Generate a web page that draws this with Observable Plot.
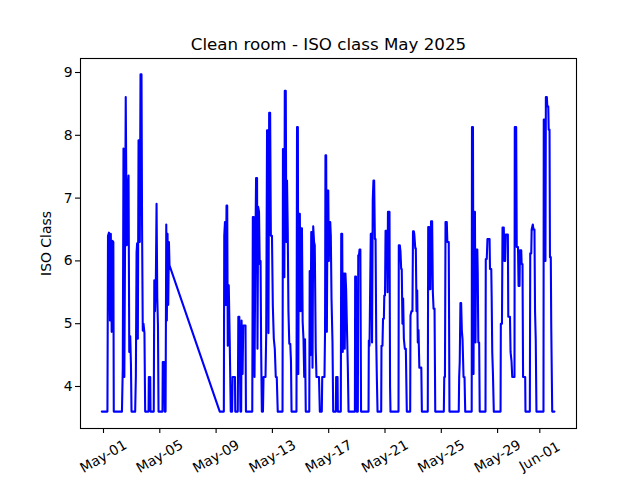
<!DOCTYPE html>
<html>
<head>
<meta charset="utf-8">
<script src="https://cdn.jsdelivr.net/npm/d3@7"></script>
<script src="https://cdn.jsdelivr.net/npm/@observablehq/plot@0.6"></script>
<style>
  html, body { margin: 0; padding: 0; background: white; }
</style>
</head>
<body>
<div id="chart"></div>
<script>
// Days since 2025-05-01 00:00 (fractional), and ISO class readings
const day = [
  -0.12, 0.28, 0.32, 0.39, 0.46, 0.52, 0.58, 0.64, 0.70, 0.73,
  1.31, 1.37, 1.42, 1.48, 1.53, 1.58, 1.65, 1.71, 1.78, 1.83, 1.90, 1.95, 1.99,
  2.25, 2.30, 2.35, 2.39, 2.44, 2.49, 2.54, 2.58, 2.63, 2.70, 2.74, 2.79, 2.84, 2.91, 2.96,
  3.20, 3.22, 3.32, 3.34,
  3.57, 3.61, 3.66, 3.72, 3.77, 3.82, 3.87, 3.91,
  4.19, 4.21, 4.31, 4.35, 4.41, 4.46, 4.50, 4.55, 4.60, 4.65, 4.69, 8.26,
  8.55, 8.58, 8.63, 8.69, 8.74, 8.79, 8.83, 8.90, 8.97, 9.04,
  9.14, 9.17, 9.34, 9.36,
  9.54, 9.58, 9.65, 9.68, 9.73, 9.78, 9.81, 9.88, 9.93, 10.09, 10.12,
  10.57, 10.61, 10.68, 10.73, 10.78, 10.84, 10.91, 10.94, 10.99, 11.05, 11.10, 11.16, 11.20, 11.25,
  11.33, 11.37, 11.51, 11.56, 11.62, 11.69, 11.72, 11.77, 11.84, 11.89, 11.97, 12.03, 12.10, 12.17, 12.24, 12.31, 12.38,
  12.72, 12.75, 12.81, 12.85, 12.88, 12.95, 12.99, 13.04, 13.09, 13.14, 13.20, 13.27, 13.32, 13.36,
  13.71, 13.75, 13.81, 13.84, 13.89, 13.95, 14.00, 14.05, 14.10, 14.15, 14.21, 14.26, 14.32, 14.37,
  14.62, 14.65, 14.71, 14.76, 14.81, 14.85, 14.90, 14.96, 15.01, 15.08, 15.13, 15.31, 15.37,
  15.51, 15.54, 15.70, 15.74, 15.77, 15.82, 15.87, 15.92, 15.97, 16.01, 16.06, 16.11, 16.15, 16.20, 16.27, 16.32,
  16.51, 16.53, 16.63, 16.65,
  16.86, 16.89, 16.96, 17.00, 17.04, 17.11, 17.14, 17.19, 17.24, 17.29, 17.36, 17.41,
  17.86, 17.88, 17.94, 17.98, 18.07, 18.10, 18.15, 18.19, 18.25, 18.30,
  18.83, 18.85, 18.90, 18.95, 18.99, 19.04, 19.08, 19.13, 19.18, 19.23, 19.28, 19.33, 19.38, 19.42, 19.47,
  19.73, 19.75, 19.82, 19.86, 19.92, 19.95, 20.00, 20.04, 20.14, 20.18, 20.21, 20.32, 20.36, 20.39,
  20.96, 20.98, 21.05, 21.10, 21.15, 21.19, 21.24, 21.29, 21.34, 21.41, 21.48, 21.55,
  21.79, 21.81, 21.88, 21.95, 21.99, 22.05, 22.08, 22.15, 22.19, 22.24, 22.29, 22.33, 22.38, 22.44, 22.58, 22.62,
  23.04, 23.07, 23.14, 23.18, 23.23, 23.27, 23.35, 23.40, 23.45, 23.52, 23.57,
  24.18, 24.21, 24.26, 24.30, 24.39, 24.43, 24.53, 24.58,
  25.24, 25.27, 25.31, 25.36, 25.41, 25.46, 25.51, 25.58, 25.65, 25.70,
  26.16, 26.18, 26.25, 26.29, 26.32, 26.39, 26.43, 26.47, 26.56, 26.59, 26.63, 26.69, 26.73,
  27.14, 27.16, 27.23, 27.28, 27.43, 27.46, 27.55, 27.58, 27.62, 27.67, 27.73,
  28.21, 28.23, 28.31, 28.35, 28.44, 28.48, 28.54, 28.58, 28.73, 28.76, 28.88, 28.92, 28.99, 29.04,
  29.20, 29.22, 29.32, 29.36, 29.45, 29.49, 29.56, 29.59, 29.68, 29.71, 29.77, 29.81, 29.96, 29.98,
  30.29, 30.32, 30.39, 30.42, 30.50, 30.55, 30.62, 30.66, 30.71, 30.76,
  31.26, 31.28, 31.37, 31.40, 31.43, 31.50, 31.53, 31.60, 31.63, 31.69, 31.72, 31.78, 31.81, 31.88, 32.04
];
const iso = [
  3.6, 3.6, 6.40, 6.45, 5.05, 6.43, 4.87, 6.32, 6.30, 3.6,
  3.6, 4.3, 7.79, 4.15, 6.2, 8.61, 6.25, 7.0, 7.36, 4.55, 4.8, 4.35, 3.6,
  3.6, 4.17, 6.14, 6.28, 4.76, 7.92, 7.92, 6.3, 8.97, 8.97, 6.56, 4.89, 5.0, 4.85, 3.6,
  3.6, 4.15, 4.15, 3.6,
  3.6, 5.69, 5.2, 5.69, 6.91, 5.42, 4.97, 3.6,
  3.6, 4.39, 4.39, 3.6, 3.6, 6.58, 5.05, 6.43, 5.3, 6.3, 5.93, 3.6,
  3.6, 6.40, 6.62, 5.3, 6.88, 6.88, 4.65, 5.61, 4.7, 3.6,
  3.6, 4.15, 4.15, 3.6,
  3.6, 5.11, 5.11, 4.68, 3.6, 3.6, 5.05, 4.2, 4.97, 4.97, 3.6,
  3.6, 6.70, 6.70, 4.15, 5.9, 7.32, 7.32, 4.6, 6.86, 6.78, 5.95, 6.0, 4.6, 3.6,
  3.6, 4.15, 4.15, 4.84, 8.08, 8.08, 4.85, 8.36, 8.36, 6.40, 6.40, 5.29, 4.76, 4.6, 4.15, 4.15, 3.6,
  3.6, 7.78, 7.78, 5.74, 8.71, 8.71, 6.3, 7.28, 6.5, 5.2, 4.68, 4.68, 4.4, 3.6,
  3.6, 8.13, 8.13, 4.2, 6.75, 6.75, 5.2, 6.52, 6.52, 5.03, 4.75, 4.15, 4.75, 3.6,
  3.6, 5.84, 4.5, 6.46, 6.46, 4.3, 6.55, 6.3, 6.25, 4.6, 4.15, 4.15, 3.6,
  3.6, 4.15, 4.15, 4.87, 7.68, 7.68, 4.87, 7.12, 7.12, 6.0, 6.62, 6.62, 6.4, 5.40, 4.7, 3.6,
  3.6, 4.15, 4.15, 3.6,
  3.6, 6.43, 6.43, 4.55, 5.8, 5.8, 4.6, 5.8, 5.53, 5.0, 4.3, 3.6,
  3.6, 5.75, 5.75, 3.6, 3.6, 6.09, 6.09, 6.18, 6.18, 3.6,
  3.6, 4.73, 4.65, 5.63, 6.43, 6.43, 4.7, 6.97, 7.28, 7.28, 6.35, 6.35, 4.7, 4.15, 3.6,
  3.6, 4.65, 4.65, 5.08, 5.08, 5.45, 5.45, 6.48, 6.48, 5.5, 6.78, 6.78, 4.0, 3.6,
  3.6, 6.25, 6.25, 6.15, 5.87, 5.87, 5.0, 5.4, 4.76, 4.6, 4.6, 3.6,
  3.6, 5.13, 5.2, 5.2, 6.47, 6.47, 6.43, 6.2, 6.2, 5.2, 5.53, 4.7, 4.9, 4.3, 4.3, 3.6,
  3.6, 6.54, 6.54, 5.55, 5.55, 6.63, 6.63, 5.5, 5.24, 5.24, 3.6,
  3.6, 4.15, 4.15, 6.62, 6.62, 6.30, 6.30, 3.6,
  3.6, 4.15, 4.39, 5.33, 5.33, 4.89, 4.75, 4.15, 4.15, 3.6,
  3.6, 8.13, 8.13, 4.2, 6.78, 6.78, 4.7, 6.18, 6.18, 5.8, 4.7, 4.7, 3.6,
  3.6, 6.03, 6.03, 6.35, 6.35, 5.87, 5.87, 5.40, 4.55, 4.2, 3.6,
  3.6, 5.0, 5.0, 6.53, 6.53, 6.0, 6.0, 6.42, 6.42, 5.11, 5.11, 4.55, 4.4, 4.15,
  4.15, 8.13, 8.13, 6.22, 6.22, 5.6, 5.6, 6.17, 6.17, 5.95, 5.95, 4.15, 4.15, 3.6,
  3.6, 6.12, 6.12, 6.50, 6.58, 6.50, 6.50, 5.2, 4.75, 3.6,
  3.6, 8.25, 8.25, 6.0, 8.61, 8.61, 8.46, 8.46, 8.09, 8.09, 6.06, 6.06, 5.0, 3.6, 3.6
];
const xTickDays = [0, 4, 8, 12, 16, 20, 24, 28, 31];
const xTickLabels = ["May-01", "May-05", "May-09", "May-13", "May-17", "May-21", "May-25", "May-29", "Jun-01"];
const yTicks = [4, 5, 6, 7, 8, 9];
const title = "Clean room - ISO class May 2025";
const yLabel = "ISO Class";

const data = day.map((d, i) => ({day: d, iso: iso[i]}));
const ticks = xTickDays.map((d, i) => ({day: d, label: xTickLabels[i]}));

const chart = Plot.plot({
  width: 640,
  height: 480,
  marginLeft: 80,
  marginRight: 64,
  marginTop: 58,
  marginBottom: 52,
  style: {fontFamily: "DejaVu Sans, sans-serif", fontSize: "13.9px", background: "white", color: "black"},
  x: {domain: [-1.634, 33.606]},
  y: {domain: [3.331, 9.223]},
  marks: [
    Plot.line(data, {x: "day", y: "iso", stroke: "#0000ff", strokeWidth: 2.08, strokeLinejoin: "round"}),
    Plot.frame({stroke: "black", strokeWidth: 1.1}),
    Plot.axisX(xTickDays, {tickSize: 5, tickFormat: () => "", strokeWidth: 1.1, label: null}),
    Plot.text(ticks, {x: "day", text: "label", frameAnchor: "bottom", dy: 28, rotate: -30,
      textAnchor: "middle", lineAnchor: "middle", fill: "black", fontSize: 13.9}),
    Plot.axisY(yTicks, {tickSize: 5, tickPadding: 3, strokeWidth: 1.1, label: null, fontSize: 13.9,
      tickFormat: d3.format("d")}),
    Plot.text([yLabel], {frameAnchor: "left", dx: -34, rotate: -90, textAnchor: "middle",
      lineAnchor: "middle", fill: "black", fontSize: 13.9}),
    Plot.text([title], {frameAnchor: "top", dy: -14, textAnchor: "middle", lineAnchor: "middle",
      fill: "black", fontSize: 16.7})
  ]
});
document.getElementById("chart").appendChild(chart);
</script>
</body>
</html>
